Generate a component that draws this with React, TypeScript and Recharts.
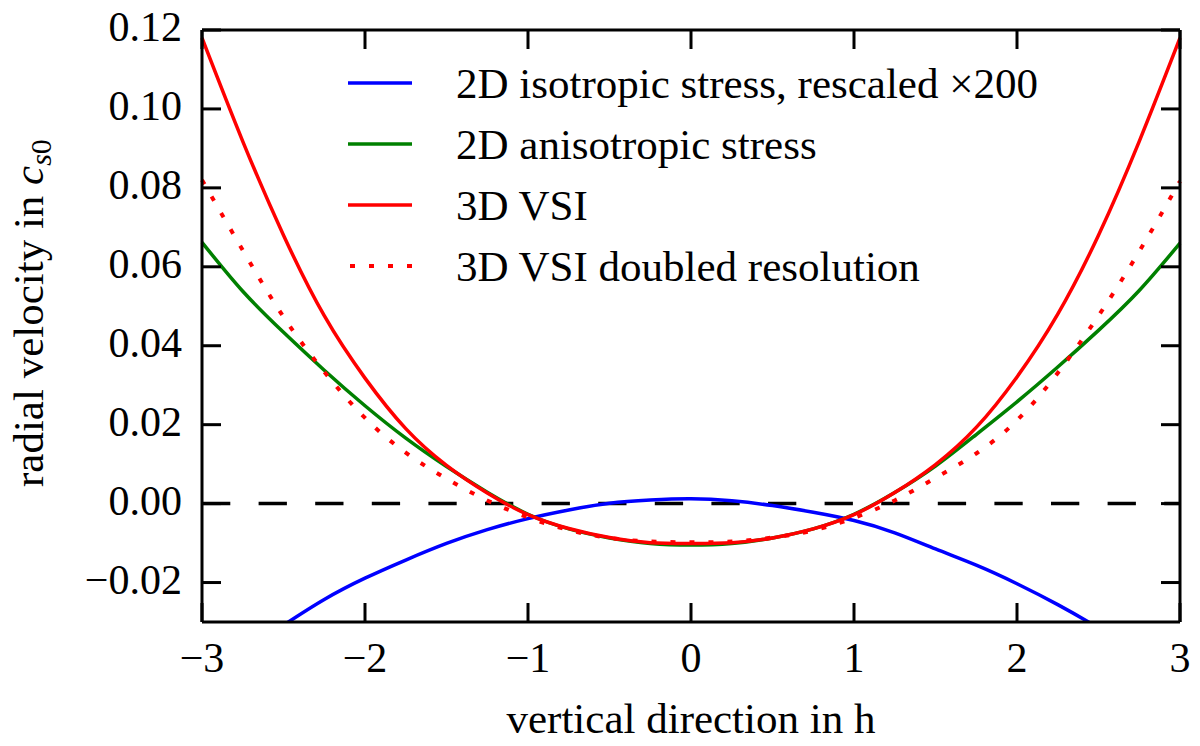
import React from "react"
import { LineChart, Line, XAxis, YAxis, ReferenceLine, Legend } from "recharts"

// vertical direction in h
const X_VALUES = [
  -3, -2.75, -2.5, -2.25, -2, -1.75, -1.5, -1.25, -1, -0.75, -0.5, -0.25, 0,
  0.25, 0.5, 0.75, 1, 1.25, 1.5, 1.75, 2, 2.25, 2.5, 2.75, 3,
]

// radial velocity in c_s0
const ISO_X200 = [
  -0.0452, -0.0377, -0.0308, -0.0243, -0.0189, -0.0143, -0.0101, -0.0066, -0.0038, -0.0016, 0.0001, 0.0009, 0.0012,
  0.0007, -0.0005, -0.0022, -0.0043, -0.0074, -0.0115, -0.0156, -0.0203, -0.0256, -0.0315, -0.038, -0.0451,
]
const ANISO = [
  0.0662, 0.0538, 0.0434, 0.0338, 0.0248, 0.0166, 0.0094, 0.0029, -0.0027, -0.0064, -0.0087, -0.0101, -0.0105,
  -0.0101, -0.0087, -0.0064, -0.0027, 0.0028, 0.0095, 0.0175, 0.0258, 0.0346, 0.0439, 0.0540, 0.066,
]
const VSI_3D = [
  0.118, 0.0918, 0.068, 0.0476, 0.0318, 0.019, 0.0097, 0.0027, -0.0028, -0.0063, -0.0086, -0.0099, -0.0101,
  -0.0099, -0.0087, -0.0064, -0.0028, 0.0028, 0.0099, 0.0193, 0.0321, 0.048, 0.068, 0.0918, 0.118,
]
const VSI_3D_DOUBLED = [
  0.082, 0.0642, 0.0473, 0.0334, 0.0217, 0.0129, 0.0063, 0.0008, -0.0035, -0.0067, -0.0087, -0.0096, -0.0098,
  -0.0096, -0.0086, -0.0068, -0.0036, 0.0008, 0.0065, 0.0127, 0.0211, 0.0331, 0.0476, 0.0639, 0.0817,
]

const X_TICKS = [-3, -2, -1, 0, 1, 2, 3]
const Y_TICKS = [-0.02, 0, 0.02, 0.04, 0.06, 0.08, 0.1, 0.12]

const NAMES = [
  "2D isotropic stress, rescaled \u00d7200",
  "2D anisotropic stress",
  "3D VSI",
  "3D VSI doubled resolution",
]

const data = X_VALUES.map((x, i) => ({
  x,
  iso: ISO_X200[i],
  aniso: ANISO[i],
  vsi: VSI_3D[i],
  vsi2: VSI_3D_DOUBLED[i],
}))

const FONT = "Liberation Serif, Times New Roman, Times, DejaVu Serif, serif"
const MINUS = "\u2212"
const CSS =
  "body{margin:0}" +
  ".fig text{font-family:'Liberation Serif','Times New Roman',Times,'DejaVu Serif',serif}"

const fmtX = (v: number) => (v < 0 ? MINUS + Math.abs(v) : String(v))
const fmtY = (v: number) => (v < -1e-9 ? MINUS + Math.abs(v).toFixed(2) : Math.abs(v).toFixed(2))

const BottomTick = ({ x, y, payload }: any) => (
  <text x={x} y={y} dy={30} textAnchor="middle" fontSize={42} fontFamily={FONT} fill="#000">
    {fmtX(payload.value)}
  </text>
)

const LeftTick = ({ x, y, payload }: any) => (
  <text x={x} y={y} dy={11} textAnchor="end" fontSize={42} fontFamily={FONT} fill="#000">
    {fmtY(payload.value)}
  </text>
)

const NoTick = () => <g />

const XTitle = (props: any) => {
  const vb = props.viewBox || { x: 202, y: 622, width: 978 }
  return (
    <text x={vb.x + vb.width / 2} y={vb.y + 111} textAnchor="middle" fontSize={43} fontFamily={FONT} fill="#000">
      vertical direction in h
    </text>
  )
}

const YTitle = () => (
  <text transform="translate(43, 487) rotate(-90)" textAnchor="start" fontSize={43} fontFamily={FONT} fill="#000">
    radial velocity in <tspan fontStyle="italic">c</tspan>
    <tspan fontSize={30} dy={8}>
      <tspan fontStyle="italic">s</tspan>0
    </tspan>
  </text>
)

const LegendBox = ({ payload }: any) => {
  const items = NAMES.map((n) => (payload || []).find((p: any) => p.value === n)).filter(Boolean)
  return (
    <svg width={720} height={240} className="fig">
      {items.map((p: any, i: number) => {
        const cy = 33 + i * 61
        const dash = p.payload?.strokeDasharray
        return (
          <g key={p.value}>
            <line
              x1={dash ? 10 : 8}
              x2={72}
              y1={cy}
              y2={cy}
              stroke={p.color}
              strokeWidth={dash ? 4 : 3.5}
              strokeDasharray={dash}
            />
            <text x={116} y={cy + 14.5} fontSize={43} fontFamily={FONT} fill="#000">
              {p.value}
            </text>
          </g>
        )
      })}
    </svg>
  )
}

export default function App() {
  return (
    <div className="fig" style={{ width: 1200, height: 746, background: "#fff", fontFamily: FONT }}>
      <style>{CSS}</style>
      <LineChart width={1200} height={746} data={data} margin={{ top: 0, right: 0, bottom: 0, left: 0 }}>
        <XAxis
          dataKey="x"
          type="number"
          domain={[-3, 3]}
          ticks={X_TICKS}
          interval={0}
          height={124}
          axisLine={{ stroke: "#000", strokeWidth: 3 }}
          tickLine={{ stroke: "#000", strokeWidth: 3 }}
          tickSize={-19}
          tickMargin={39}
          tick={BottomTick}
          label={XTitle}
        />
        <XAxis
          xAxisId="top"
          orientation="top"
          dataKey="x"
          type="number"
          domain={[-3, 3]}
          ticks={X_TICKS}
          interval={0}
          height={30}
          axisLine={{ stroke: "#000", strokeWidth: 3 }}
          tickLine={{ stroke: "#000", strokeWidth: 3 }}
          tickSize={-19}
          tick={NoTick}
        />
        <YAxis
          type="number"
          domain={[-0.03, 0.12]}
          allowDataOverflow
          ticks={Y_TICKS}
          interval={0}
          width={202}
          axisLine={{ stroke: "#000", strokeWidth: 3 }}
          tickLine={{ stroke: "#000", strokeWidth: 3 }}
          tickSize={-19}
          tickMargin={39}
          tick={LeftTick}
          label={YTitle}
        />
        <YAxis
          yAxisId="right"
          orientation="right"
          type="number"
          domain={[-0.03, 0.12]}
          allowDataOverflow
          ticks={Y_TICKS}
          interval={0}
          width={20}
          axisLine={{ stroke: "#000", strokeWidth: 3 }}
          tickLine={{ stroke: "#000", strokeWidth: 3 }}
          tickSize={-19}
          tick={NoTick}
        />
        <ReferenceLine y={0} stroke="#000" strokeWidth={3.5} strokeDasharray="28.3 28.3" />
        <Line
          dataKey="iso"
          name={NAMES[0]}
          type="natural"
          stroke="#0000ff"
          strokeWidth={3.5}
          dot={false}
          activeDot={false}
          isAnimationActive={false}
        />
        <Line
          dataKey="aniso"
          name={NAMES[1]}
          type="natural"
          stroke="#008000"
          strokeWidth={3.5}
          dot={false}
          activeDot={false}
          isAnimationActive={false}
        />
        <Line
          dataKey="vsi"
          name={NAMES[2]}
          type="natural"
          stroke="#ff0000"
          strokeWidth={3.5}
          dot={false}
          activeDot={false}
          isAnimationActive={false}
        />
        <Line
          dataKey="vsi2"
          name={NAMES[3]}
          type="natural"
          stroke="#ff0000"
          strokeWidth={4}
          strokeDasharray="5 14"
          dot={false}
          activeDot={false}
          isAnimationActive={false}
        />
        <Legend
          layout="vertical"
          align="center"
          verticalAlign="middle"
          content={LegendBox}
          wrapperStyle={{ left: 340, top: 50, width: 720, height: 240 }}
        />
      </LineChart>
    </div>
  )
}
